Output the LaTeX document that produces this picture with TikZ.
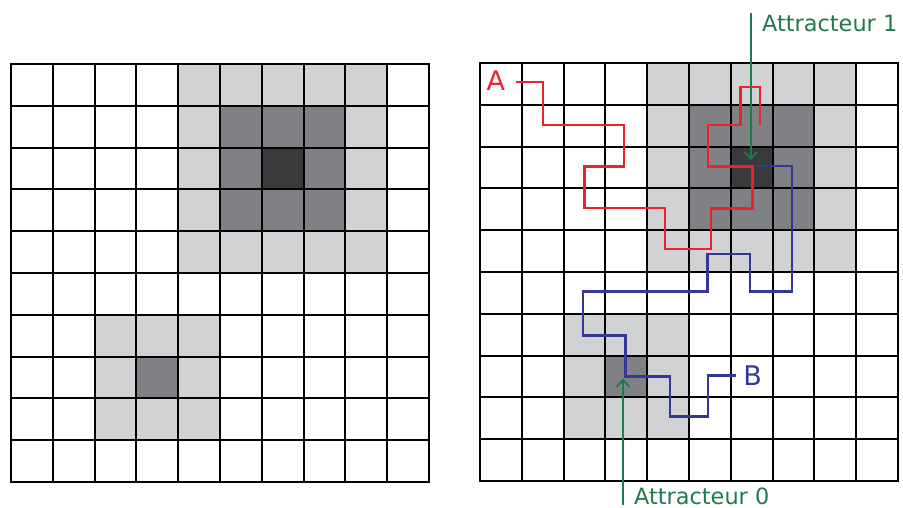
\documentclass[tikz,border=0pt]{standalone}
\usepackage{fontspec}
\setmainfont{DejaVu Sans}
\usetikzlibrary{arrows.meta}
\definecolor{lightg}{RGB}{209,210,212}
\definecolor{midg}{RGB}{128,129,133}
\definecolor{darkg}{RGB}{58,58,60}
\definecolor{pathred}{RGB}{236,34,42}
\definecolor{pathblue}{RGB}{52,54,152}
\definecolor{attgreen}{RGB}{32,122,78}
\tikzset{
  gridline/.style={line width=2pt, black, line cap=rect},
  redpath/.style={line width=2.4pt, pathred, line join=miter},
  bluepath/.style={line width=2.4pt, pathblue, line join=miter},
  attarrow/.style={line width=1.8pt, attgreen, -{Straight Barb[length=7pt,width=13pt]}},
  letterlbl/.style={font=\fontsize{27}{27}\selectfont, inner sep=0pt},
  attlbl/.style={font=\fontsize{22.4}{22.4}\selectfont, text=attgreen, inner sep=0pt},
}
\begin{document}
\begin{tikzpicture}[x=1pt,y=-1pt]
\useasboundingbox (0,0) rectangle (903,508);
\fill[white] (0,0) rectangle (903,508);
\foreach \ox/\oy in {11/64, 480/63}{
  \begin{scope}[shift={(\ox,\oy)}, x=41.8pt, y=-41.8pt]
    \fill[lightg] (4,0) rectangle (9,5);
    \fill[midg] (5,1) rectangle (8,4);
    \fill[darkg] (6,2) rectangle (7,3);
    \fill[lightg] (2,6) rectangle (5,9);
    \fill[midg] (3,7) rectangle (4,8);
    \foreach \k in {0,...,10}{
      \draw[gridline] (\k,0) -- (\k,10);
      \draw[gridline] (0,\k) -- (10,\k);
    }
  \end{scope}
}
\begin{scope}[shift={(480,63)}, x=41.8pt, y=-41.8pt]
  \node[letterlbl, text=pathred] (A) at (0.38,0.43) {A};
  \node[letterlbl, text=pathblue] (B) at (6.52,7.49) {B};
  \coordinate (a0) at (0.85,0.45);
  \coordinate (b0) at (6.12,7.48);
  \coordinate (att1) at (6.48,2.32);
  \coordinate (att0) at (3.42,7.55);
  \draw[redpath] (a0) -- (1.5,0.45) -- (1.5,1.48) -- (3.45,1.48) -- (3.45,2.48)
    -- (2.5,2.48) -- (2.5,3.47) -- (4.42,3.47) -- (4.42,4.45) -- (5.52,4.45)
    -- (5.52,3.48) -- (6.52,3.48) -- (6.52,2.48) -- (5.45,2.48) -- (5.45,1.48)
    -- (6.23,1.48) -- (6.23,0.58) -- (6.7,0.58) -- (6.7,1.48);
  \draw[bluepath] (b0) -- (5.46,7.48) -- (5.46,8.46) -- (4.55,8.46) -- (4.55,7.5)
    -- (3.48,7.5) -- (3.48,6.52) -- (2.47,6.52) -- (2.47,5.47) -- (5.44,5.47)
    -- (5.44,4.57) -- (6.46,4.57) -- (6.46,5.47) -- (7.47,5.47) -- (7.47,2.47)
    -- (6.63,2.47);
\end{scope}
\node[attlbl, anchor=base west] (t1) at (762,32) {Attracteur 1};
\node[attlbl, anchor=base west] (t0) at (634,504) {Attracteur 0};
\draw[attarrow] ([yshift=2pt]t1.north west -| att1) -- (att1);
\draw[attarrow] (t0.south west -| att0) -- (att0);
\end{tikzpicture}
\end{document}
